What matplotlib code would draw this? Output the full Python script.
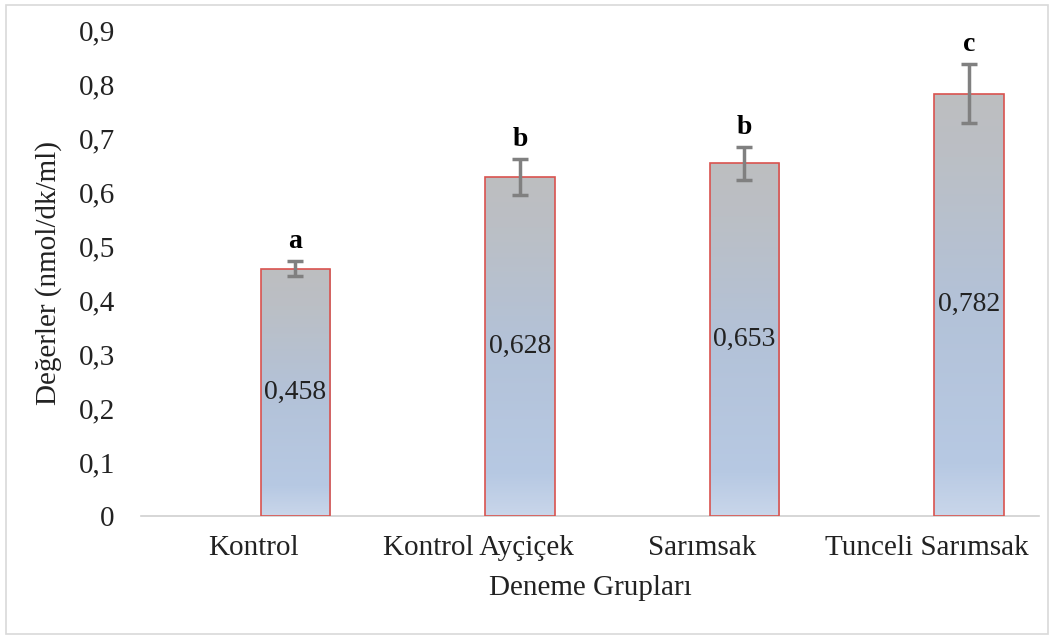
import numpy as np
import matplotlib
matplotlib.use("Agg")
import matplotlib.pyplot as plt
from matplotlib.colors import LinearSegmentedColormap
from matplotlib.patches import Rectangle

plt.rcParams['font.family'] = ['Liberation Serif', 'DejaVu Serif']

# veriler
gruplar = ['Kontrol', 'Kontrol Ayçiçek', 'Sarımsak', 'Tunceli Sarımsak']
degerler = [0.458, 0.628, 0.653, 0.782]
hatalar = [0.014, 0.033, 0.031, 0.055]
harfler = ['a', 'b', 'b', 'c']
y_ticks = [0, 0.1, 0.2, 0.3, 0.4, 0.5, 0.6, 0.7, 0.8, 0.9]

fig = plt.figure(figsize=(10.54, 6.39), dpi=100)
ax = fig.add_axes([0.134, 0.1925, 0.852, 0.7605])

x = np.arange(len(gruplar))
kaydir = 0.187
genislik = 0.31

bars = ax.bar(x + kaydir, degerler, width=genislik, facecolor='none',
              edgecolor='#D9534F', linewidth=1.2, zorder=3)

# gri -> mavi gradyan dolgu
cmap = LinearSegmentedColormap.from_list('grad', [
    (0.0, '#C9D6EA'), (0.12, '#B7C9E3'), (0.5, '#B3C2D8'),
    (0.85, '#BBBFC5'), (1.0, '#BDBEC0')])
grad = np.linspace(0, 1, 256).reshape(-1, 1)
for b in bars:
    x0, w, h = b.get_x(), b.get_width(), b.get_height()
    im = ax.imshow(grad, cmap=cmap, aspect='auto', origin='lower',
                   extent=(x0, x0 + w, 0, h), zorder=2)
    im.set_clip_path(Rectangle((x0, 0), w, h, transform=ax.transData))

ax.errorbar(x + kaydir, degerler, yerr=hatalar, fmt='none', ecolor='#808080',
            elinewidth=2.5, capsize=6, capthick=2.5, zorder=4)

for i in range(len(gruplar)):
    ax.text(x[i] + kaydir, degerler[i] / 2, str(degerler[i]).replace('.', ','),
            ha='center', va='center', fontsize=20, color='#222222', zorder=5)
    ax.annotate(harfler[i], (x[i] + kaydir, degerler[i] + hatalar[i]),
                xytext=(0, 5), textcoords='offset points', ha='center',
                va='bottom', fontsize=20, fontweight='bold', zorder=5)

ax.set_xlim(-0.5, 3.5)
ax.set_ylim(0, 0.9)
ax.set_yticks(y_ticks)
ax.set_yticklabels([('%g' % t).replace('.', ',') for t in y_ticks])
ax.set_xticks(x)
ax.set_xticklabels(gruplar)
ax.tick_params(axis='y', length=0, pad=19, labelsize=21, colors='#222222')
ax.tick_params(axis='x', length=0, pad=14, labelsize=21, colors='#222222')

for s in ['top', 'right', 'left']:
    ax.spines[s].set_visible(False)
ax.spines['bottom'].set_color('#D0D0D0')
ax.spines['bottom'].set_linewidth(1.2)

ax.set_ylabel('Değerler (nmol/dk/ml)', fontsize=21, color='#222222', labelpad=12)
ax.set_xlabel('Deneme Grupları', fontsize=21, color='#222222', labelpad=10)

# dış çerçeve
fig.patches.append(Rectangle((0.006, 0.008), 0.988, 0.984, transform=fig.transFigure,
                             fill=False, edgecolor='#D9D9D9', linewidth=1.2))

plt.savefig('out.png', dpi=100)
